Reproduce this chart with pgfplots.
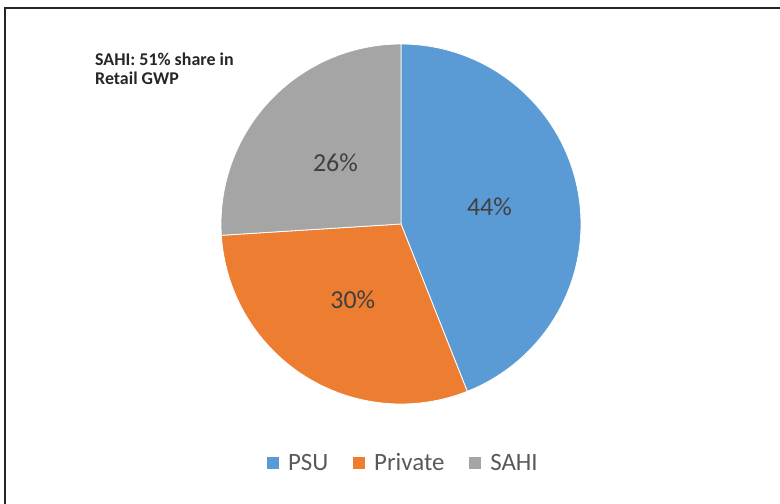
\documentclass[border=0pt]{standalone}
\usepackage{pgfplots}
\usepackage{pgfplotstable}
\pgfplotsset{compat=1.18}
\usepackage{fontspec}
\setmainfont{Carlito}
\definecolor{psu}{HTML}{5B9BD5}
\definecolor{pvt}{HTML}{ED7D31}
\definecolor{sahi}{HTML}{A5A5A5}
\definecolor{labtext}{HTML}{404040}
\definecolor{legtext}{HTML}{595959}

\pgfplotstableread{
label value
PSU 44
Private 30
SAHI 26
}\piedata

\pgfplotstablegetelem{0}{value}\of\piedata \let\vA\pgfplotsretval
\pgfplotstablegetelem{1}{value}\of\piedata \let\vB\pgfplotsretval
\pgfplotstablegetelem{2}{value}\of\piedata \let\vC\pgfplotsretval
\pgfmathsetmacro{\aA}{90}
\pgfmathsetmacro{\aB}{\aA-3.6*\vA}
\pgfmathsetmacro{\aC}{\aB-3.6*\vB}
\pgfmathsetmacro{\aD}{\aC-3.6*\vC}
\pgfmathsetmacro{\mA}{(\aA+\aB)/2}
\pgfmathsetmacro{\mB}{(\aB+\aC)/2}
\pgfmathsetmacro{\mC}{(\aC+\aD)/2}
\def\cx{401}
\def\cy{280}
\def\R{180}

\begin{document}
\begin{tikzpicture}
\begin{axis}[
  at={(0,0)}, anchor=south west,
  x=1bp, y=1bp,
  xmin=0, xmax=780, ymin=0, ymax=504,
  hide axis, clip=false,
  legend columns=3,
  legend style={at={(axis cs:406,41)}, anchor=center, draw=none, fill=none,
    font=\fontsize{25}{25}\selectfont\color{legtext},
    /tikz/every even column/.append style={column sep=16bp},
    nodes={inner xsep=8bp}},
  legend image code/.code={\fill[#1] (0bp,-6.5bp) rectangle (13bp,6.5bp);},
]
\addplot[fill=psu, draw=white, line width=0.8bp, domain=\aB:\aA, samples=120, variable=\t]
  ({\cx+\R*cos(\t)},{\cy+\R*sin(\t)}) -- (axis cs:\cx,\cy) -- cycle;
\addlegendentry{PSU}
\addplot[fill=pvt, draw=white, line width=0.8bp, domain=\aC:\aB, samples=120, variable=\t]
  ({\cx+\R*cos(\t)},{\cy+\R*sin(\t)}) -- (axis cs:\cx,\cy) -- cycle;
\addlegendentry{Private}
\addplot[fill=sahi, draw=white, line width=0.8bp, domain=\aD:\aC, samples=120, variable=\t]
  ({\cx+\R*cos(\t)},{\cy+\R*sin(\t)}) -- (axis cs:\cx,\cy) -- cycle;
\addlegendentry{SAHI}

\node[font=\fontsize{26}{26}\selectfont, text=labtext] at (axis cs:{\cx+90*cos(\mA)},{\cy+90*sin(\mA)}) {\vA\%};
\node[font=\fontsize{26}{26}\selectfont, text=labtext] at (axis cs:{\cx+90*cos(\mB)},{\cy+90*sin(\mB)}) {\vB\%};
\node[font=\fontsize{26}{26}\selectfont, text=labtext] at (axis cs:{\cx+90*cos(\mC)},{\cy+90*sin(\mC)}) {\vC\%};

\node[font=\fontsize{18}{19}\selectfont\bfseries, text=black!85, align=left, anchor=north west, inner sep=0pt]
  at (axis cs:95,451) {SAHI: 51\% share in\\Retail GWP};
\end{axis}
\draw[line width=2.5bp, color=black!85] (5bp,0bp) -- (5bp,496bp) -- (780bp,496bp);
\pgfresetboundingbox
\useasboundingbox (0,0) rectangle (780bp,504bp);
\end{tikzpicture}
\end{document}
